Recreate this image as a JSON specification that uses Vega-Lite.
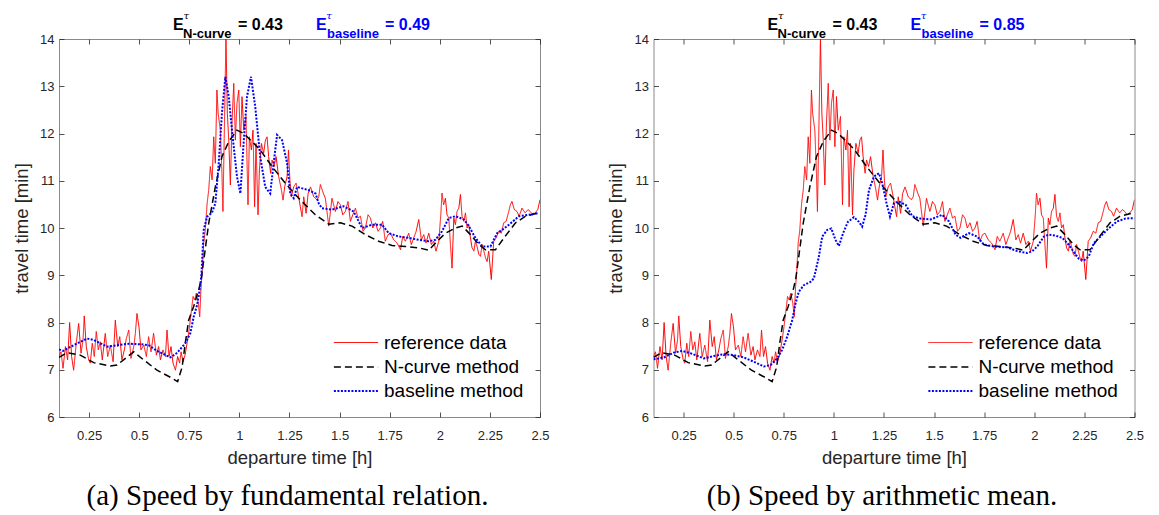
{
  "$schema": "https://vega.github.io/schema/vega-lite/v6.json",
  "padding": {"left": 11, "top": 10, "right": 5, "bottom": 0},
  "background": "white",
  "config": {
    "font": "Liberation Sans",
    "view": {"stroke": "#8a8a8a", "strokeWidth": 1},
    "axis": {"grid": false, "domain": false, "tickColor": "#262626", "tickSize": -5, "tickWidth": 0.8, "labelColor": "#262626", "labelFont": "Liberation Sans", "labelFontSize": 13, "titleFont": "Liberation Sans", "titleFontSize": 18.5, "titleFontWeight": "normal", "titleColor": "#262626"},
    "legend": {"orient": "bottom-right", "offset": 16, "padding": 0, "labelFont": "Liberation Sans", "labelFontSize": 19, "labelColor": "#000", "symbolType": "M-2.7,0H0.7", "symbolSize": 676, "rowPadding": 0, "labelOffset": 1, "title": null}
  },
  "resolve": {"scale": {"color": "independent", "strokeDash": "independent", "strokeWidth": "independent"}, "legend": {"color": "independent", "strokeDash": "independent", "strokeWidth": "independent"}},
  "datasets": {
    "ref": [
      {"t":0.100,"tt":7.28},{"t":0.110,"tt":7.38},{"t":0.120,"tt":7.03},{"t":0.132,"tt":7.49},{"t":0.143,"tt":7.21},{"t":0.153,"tt":8.00},{"t":0.163,"tt":7.28},{"t":0.173,"tt":6.99},{"t":0.186,"tt":7.56},{"t":0.198,"tt":7.98},
      {"t":0.210,"tt":7.35},{"t":0.220,"tt":7.63},{"t":0.226,"tt":8.14},{"t":0.236,"tt":7.49},{"t":0.248,"tt":7.21},{"t":0.256,"tt":7.14},{"t":0.266,"tt":7.56},{"t":0.276,"tt":7.28},{"t":0.286,"tt":7.81},{"t":0.296,"tt":7.42},
      {"t":0.306,"tt":7.59},{"t":0.316,"tt":7.21},{"t":0.331,"tt":7.77},{"t":0.343,"tt":7.28},{"t":0.356,"tt":7.52},{"t":0.370,"tt":7.17},{"t":0.381,"tt":8.05},{"t":0.393,"tt":7.49},{"t":0.403,"tt":7.70},{"t":0.414,"tt":7.21},
      {"t":0.426,"tt":7.42},{"t":0.436,"tt":7.66},{"t":0.448,"tt":7.84},{"t":0.459,"tt":7.24},{"t":0.473,"tt":7.49},{"t":0.481,"tt":7.77},{"t":0.489,"tt":8.19},{"t":0.499,"tt":7.91},{"t":0.509,"tt":7.42},{"t":0.523,"tt":7.52},
      {"t":0.536,"tt":7.28},{"t":0.547,"tt":7.70},{"t":0.559,"tt":7.38},{"t":0.572,"tt":7.77},{"t":0.586,"tt":7.31},{"t":0.597,"tt":7.49},{"t":0.606,"tt":7.21},{"t":0.619,"tt":7.42},{"t":0.631,"tt":7.28},{"t":0.639,"tt":7.84},
      {"t":0.649,"tt":7.28},{"t":0.659,"tt":7.49},{"t":0.669,"tt":7.14},{"t":0.681,"tt":6.99},{"t":0.692,"tt":7.28},{"t":0.702,"tt":7.14},{"t":0.709,"tt":7.38},{"t":0.719,"tt":7.17},{"t":0.729,"tt":7.31},{"t":0.739,"tt":7.56},
      {"t":0.749,"tt":7.84},{"t":0.759,"tt":8.19},{"t":0.769,"tt":8.55},{"t":0.777,"tt":8.48},{"t":0.785,"tt":8.62},{"t":0.795,"tt":8.41},{"t":0.802,"tt":8.12},{"t":0.809,"tt":8.76},{"t":0.814,"tt":9.04},{"t":0.822,"tt":9.68},
      {"t":0.830,"tt":9.96},{"t":0.839,"tt":10.52},{"t":0.847,"tt":10.80},{"t":0.855,"tt":11.30},{"t":0.864,"tt":11.02},{"t":0.872,"tt":11.93},{"t":0.880,"tt":11.37},{"t":0.888,"tt":12.92},{"t":0.894,"tt":12.43},{"t":0.905,"tt":12.07},
      {"t":0.913,"tt":11.16},{"t":0.918,"tt":10.35},{"t":0.925,"tt":12.07},{"t":0.933,"tt":14.05},{"t":0.940,"tt":12.43},{"t":0.947,"tt":11.86},{"t":0.955,"tt":10.91},{"t":0.963,"tt":12.22},{"t":0.972,"tt":13.06},{"t":0.980,"tt":11.86},
      {"t":0.988,"tt":12.64},{"t":0.997,"tt":12.92},{"t":1.005,"tt":11.72},{"t":1.013,"tt":12.78},{"t":1.022,"tt":12.07},{"t":1.033,"tt":12.36},{"t":1.043,"tt":10.49},{"t":1.050,"tt":11.93},{"t":1.060,"tt":11.65},{"t":1.068,"tt":12.07},
      {"t":1.076,"tt":10.45},{"t":1.083,"tt":11.79},{"t":1.093,"tt":10.28},{"t":1.100,"tt":11.23},{"t":1.110,"tt":11.79},{"t":1.121,"tt":11.58},{"t":1.130,"tt":11.86},{"t":1.138,"tt":11.93},{"t":1.146,"tt":11.51},{"t":1.156,"tt":11.16},
      {"t":1.163,"tt":11.44},{"t":1.173,"tt":11.30},{"t":1.183,"tt":11.51},{"t":1.196,"tt":11.09},{"t":1.210,"tt":10.80},{"t":1.218,"tt":10.59},{"t":1.226,"tt":10.87},{"t":1.238,"tt":11.09},{"t":1.245,"tt":11.65},{"t":1.252,"tt":11.02},
      {"t":1.259,"tt":10.66},{"t":1.271,"tt":10.87},{"t":1.283,"tt":10.95},{"t":1.293,"tt":10.73},{"t":1.304,"tt":10.45},{"t":1.313,"tt":10.24},{"t":1.321,"tt":10.66},{"t":1.333,"tt":10.31},{"t":1.343,"tt":10.73},{"t":1.355,"tt":10.87},
      {"t":1.371,"tt":10.66},{"t":1.387,"tt":10.60},{"t":1.396,"tt":10.66},{"t":1.404,"tt":10.92},{"t":1.421,"tt":10.71},{"t":1.429,"tt":10.63},{"t":1.446,"tt":10.04},{"t":1.462,"tt":10.63},{"t":1.479,"tt":10.35},{"t":1.492,"tt":10.56},
      {"t":1.504,"tt":10.49},{"t":1.516,"tt":10.28},{"t":1.529,"tt":10.35},{"t":1.542,"tt":10.56},{"t":1.554,"tt":10.14},{"t":1.566,"tt":10.28},{"t":1.579,"tt":10.42},{"t":1.592,"tt":10.21},{"t":1.604,"tt":10.25},{"t":1.617,"tt":9.93},
      {"t":1.629,"tt":10.00},{"t":1.642,"tt":10.28},{"t":1.654,"tt":10.21},{"t":1.666,"tt":10.00},{"t":1.679,"tt":10.11},{"t":1.692,"tt":9.93},{"t":1.704,"tt":10.00},{"t":1.715,"tt":10.14},{"t":1.728,"tt":9.72},{"t":1.742,"tt":9.86},
      {"t":1.754,"tt":9.89},{"t":1.770,"tt":9.75},{"t":1.787,"tt":9.68},{"t":1.804,"tt":9.54},{"t":1.815,"tt":9.82},{"t":1.828,"tt":9.72},{"t":1.845,"tt":9.89},{"t":1.858,"tt":9.65},{"t":1.870,"tt":9.79},{"t":1.882,"tt":9.93},
      {"t":1.895,"tt":10.18},{"t":1.908,"tt":9.75},{"t":1.920,"tt":9.86},{"t":1.931,"tt":9.68},{"t":1.945,"tt":9.89},{"t":1.958,"tt":9.65},{"t":1.970,"tt":9.72},{"t":1.981,"tt":9.51},{"t":1.995,"tt":9.72},{"t":2.005,"tt":10.28},
      {"t":2.011,"tt":10.74},{"t":2.019,"tt":10.49},{"t":2.028,"tt":10.63},{"t":2.036,"tt":10.28},{"t":2.045,"tt":10.21},{"t":2.053,"tt":9.65},{"t":2.061,"tt":9.15},{"t":2.070,"tt":10.21},{"t":2.078,"tt":10.07},{"t":2.086,"tt":10.35},
      {"t":2.095,"tt":10.42},{"t":2.103,"tt":10.71},{"t":2.111,"tt":10.25},{"t":2.120,"tt":10.14},{"t":2.128,"tt":10.32},{"t":2.136,"tt":10.00},{"t":2.145,"tt":10.07},{"t":2.153,"tt":9.79},{"t":2.161,"tt":9.58},{"t":2.170,"tt":9.51},
      {"t":2.178,"tt":9.72},{"t":2.186,"tt":9.61},{"t":2.195,"tt":9.44},{"t":2.203,"tt":9.40},{"t":2.211,"tt":9.65},{"t":2.220,"tt":9.51},{"t":2.228,"tt":9.37},{"t":2.236,"tt":9.29},{"t":2.244,"tt":9.51},{"t":2.257,"tt":8.91},
      {"t":2.269,"tt":9.72},{"t":2.281,"tt":9.79},{"t":2.294,"tt":9.93},{"t":2.307,"tt":9.89},{"t":2.319,"tt":10.11},{"t":2.331,"tt":10.14},{"t":2.344,"tt":10.35},{"t":2.352,"tt":10.49},{"t":2.360,"tt":10.56},{"t":2.372,"tt":10.39},
      {"t":2.385,"tt":10.35},{"t":2.396,"tt":10.25},{"t":2.410,"tt":10.42},{"t":2.426,"tt":10.32},{"t":2.440,"tt":10.39},{"t":2.451,"tt":10.35},{"t":2.463,"tt":10.28},{"t":2.476,"tt":10.32},{"t":2.489,"tt":10.39},{"t":2.500,"tt":10.60}
    ],
    "ncurve": [
      {"t":0.100,"tt":7.26},{"t":0.140,"tt":7.36},{"t":0.206,"tt":7.31},{"t":0.273,"tt":7.15},{"t":0.356,"tt":7.08},{"t":0.390,"tt":7.10},{"t":0.473,"tt":7.38},{"t":0.522,"tt":7.21},{"t":0.589,"tt":6.99},{"t":0.656,"tt":6.84},
      {"t":0.692,"tt":6.75},{"t":0.714,"tt":7.05},{"t":0.730,"tt":7.56},{"t":0.747,"tt":8.05},{"t":0.772,"tt":8.34},{"t":0.797,"tt":8.69},{"t":0.810,"tt":8.93},{"t":0.847,"tt":10.10},{"t":0.880,"tt":10.87},{"t":0.913,"tt":11.51},
      {"t":0.947,"tt":11.83},{"t":0.988,"tt":12.07},{"t":1.021,"tt":12.00},{"t":1.063,"tt":11.83},{"t":1.104,"tt":11.65},{"t":1.163,"tt":11.30},{"t":1.229,"tt":10.95},{"t":1.296,"tt":10.63},{"t":1.379,"tt":10.28},{"t":1.446,"tt":10.08},
      {"t":1.504,"tt":10.11},{"t":1.562,"tt":10.04},{"t":1.628,"tt":9.86},{"t":1.695,"tt":9.72},{"t":1.762,"tt":9.63},{"t":1.828,"tt":9.61},{"t":1.895,"tt":9.58},{"t":1.945,"tt":9.53},{"t":1.978,"tt":9.68},{"t":2.028,"tt":9.89},
      {"t":2.078,"tt":10.00},{"t":2.112,"tt":10.04},{"t":2.153,"tt":9.86},{"t":2.195,"tt":9.65},{"t":2.228,"tt":9.54},{"t":2.278,"tt":9.54},{"t":2.320,"tt":9.79},{"t":2.378,"tt":10.11},{"t":2.428,"tt":10.25},{"t":2.495,"tt":10.32}
    ],
    "basea": [
      {"t":0.100,"tt":7.43},{"t":0.120,"tt":7.40},{"t":0.173,"tt":7.52},{"t":0.240,"tt":7.66},{"t":0.273,"tt":7.63},{"t":0.340,"tt":7.49},{"t":0.390,"tt":7.52},{"t":0.448,"tt":7.55},{"t":0.506,"tt":7.54},{"t":0.547,"tt":7.52},
      {"t":0.589,"tt":7.40},{"t":0.656,"tt":7.26},{"t":0.690,"tt":7.36},{"t":0.730,"tt":7.56},{"t":0.755,"tt":7.77},{"t":0.772,"tt":8.12},{"t":0.789,"tt":8.37},{"t":0.797,"tt":8.55},{"t":0.810,"tt":8.97},{"t":0.822,"tt":9.96},
      {"t":0.839,"tt":10.24},{"t":0.863,"tt":10.32},{"t":0.880,"tt":10.52},{"t":0.897,"tt":11.37},{"t":0.913,"tt":12.43},{"t":0.930,"tt":13.20},{"t":0.947,"tt":12.78},{"t":0.963,"tt":12.07},{"t":0.988,"tt":11.09},{"t":1.005,"tt":10.73},
      {"t":1.021,"tt":11.79},{"t":1.038,"tt":12.78},{"t":1.058,"tt":13.20},{"t":1.079,"tt":12.57},{"t":1.104,"tt":11.51},{"t":1.129,"tt":10.87},{"t":1.154,"tt":10.73},{"t":1.171,"tt":11.37},{"t":1.188,"tt":11.97},{"t":1.213,"tt":11.86},
      {"t":1.238,"tt":11.37},{"t":1.254,"tt":10.73},{"t":1.271,"tt":10.63},{"t":1.288,"tt":10.87},{"t":1.346,"tt":10.80},{"t":1.380,"tt":10.73},{"t":1.396,"tt":10.52},{"t":1.412,"tt":10.42},{"t":1.462,"tt":10.39},{"t":1.520,"tt":10.46},
      {"t":1.570,"tt":10.35},{"t":1.612,"tt":10.00},{"t":1.662,"tt":10.07},{"t":1.712,"tt":10.07},{"t":1.745,"tt":9.89},{"t":1.795,"tt":9.82},{"t":1.845,"tt":9.79},{"t":1.895,"tt":9.75},{"t":1.945,"tt":9.72},{"t":1.978,"tt":9.75},
      {"t":2.011,"tt":9.93},{"t":2.045,"tt":10.21},{"t":2.078,"tt":10.25},{"t":2.120,"tt":10.18},{"t":2.145,"tt":10.04},{"t":2.178,"tt":9.79},{"t":2.211,"tt":9.61},{"t":2.253,"tt":9.61},{"t":2.286,"tt":9.89},{"t":2.311,"tt":9.96},
      {"t":2.345,"tt":10.07},{"t":2.395,"tt":10.25},{"t":2.445,"tt":10.28},{"t":2.495,"tt":10.32}
    ],
    "baseb": [
      {"t":0.100,"tt":7.22},{"t":0.152,"tt":7.26},{"t":0.200,"tt":7.36},{"t":0.243,"tt":7.40},{"t":0.285,"tt":7.35},{"t":0.351,"tt":7.24},{"t":0.400,"tt":7.29},{"t":0.451,"tt":7.33},{"t":0.500,"tt":7.31},{"t":0.551,"tt":7.26},
      {"t":0.600,"tt":7.17},{"t":0.651,"tt":7.07},{"t":0.684,"tt":7.10},{"t":0.717,"tt":7.24},{"t":0.742,"tt":7.42},{"t":0.767,"tt":7.70},{"t":0.792,"tt":8.05},{"t":0.809,"tt":8.41},{"t":0.825,"tt":8.65},{"t":0.850,"tt":8.79},
      {"t":0.883,"tt":8.86},{"t":0.900,"tt":8.93},{"t":0.925,"tt":9.39},{"t":0.942,"tt":9.82},{"t":0.967,"tt":9.96},{"t":0.987,"tt":9.99},{"t":1.008,"tt":9.75},{"t":1.025,"tt":9.62},{"t":1.046,"tt":9.89},{"t":1.070,"tt":10.13},
      {"t":1.100,"tt":10.23},{"t":1.125,"tt":10.13},{"t":1.141,"tt":10.03},{"t":1.158,"tt":10.28},{"t":1.175,"tt":10.80},{"t":1.200,"tt":11.09},{"t":1.225,"tt":11.16},{"t":1.241,"tt":10.95},{"t":1.263,"tt":10.52},{"t":1.280,"tt":10.24},
      {"t":1.300,"tt":10.53},{"t":1.324,"tt":10.56},{"t":1.358,"tt":10.49},{"t":1.391,"tt":10.25},{"t":1.432,"tt":10.20},{"t":1.482,"tt":10.18},{"t":1.524,"tt":10.25},{"t":1.540,"tt":10.28},{"t":1.574,"tt":10.14},{"t":1.607,"tt":9.86},
      {"t":1.632,"tt":9.79},{"t":1.674,"tt":9.89},{"t":1.715,"tt":9.82},{"t":1.748,"tt":9.65},{"t":1.798,"tt":9.61},{"t":1.865,"tt":9.59},{"t":1.915,"tt":9.51},{"t":1.965,"tt":9.47},{"t":1.990,"tt":9.51},{"t":2.015,"tt":9.61},
      {"t":2.048,"tt":9.82},{"t":2.073,"tt":9.86},{"t":2.106,"tt":9.84},{"t":2.140,"tt":9.79},{"t":2.165,"tt":9.68},{"t":2.189,"tt":9.54},{"t":2.222,"tt":9.35},{"t":2.247,"tt":9.31},{"t":2.272,"tt":9.40},{"t":2.297,"tt":9.68},
      {"t":2.330,"tt":9.82},{"t":2.363,"tt":9.96},{"t":2.413,"tt":10.14},{"t":2.455,"tt":10.20},{"t":2.500,"tt":10.21}
    ],
    "one": [{}]
  },
  "spacing": 55.5,
  "hconcat": [
    {
      "width": 481, "height": 378,
      "title": {"text": "(a) Speed by fundamental relation.", "orient": "bottom", "font": "Liberation Serif", "fontSize": 29, "fontWeight": "normal", "color": "#000", "offset": 14.5, "dx": -12},
      "resolve": {"axis": {"x": "independent", "y": "independent"}},
      "layer": [
        {"data": {"name": "ref"}, "transform": [{"calculate": "'reference data'", "as": "series"}],
         "mark": {"type": "line", "clip": true},
         "encoding": {
           "x": {"field": "t", "type": "quantitative", "scale": {"domain": [0.1, 2.5]}, "axis": {"values": [0.25,0.5,0.75,1,1.25,1.5,1.75,2,2.25,2.5], "labelExpr": "toString(datum.value)", "title": "departure time [h]", "labelPadding": 17.5, "minExtent": 25, "maxExtent": 25, "titlePadding": 6.5, "labelFlush": false}},
           "y": {"field": "tt", "type": "quantitative", "scale": {"domain": [6, 14]}, "axis": {"values": [6,7,8,9,10,11,12,13,14], "title": "travel time [min]", "labelPadding": 10, "minExtent": 22, "maxExtent": 22, "titlePadding": 5.75}},
           "color": {"field": "series", "type": "nominal", "scale": {"domain": ["reference data", "N-curve method", "baseline method"], "range": ["#ff0000", "#000000", "#0000ff"]}},
           "strokeDash": {"field": "series", "type": "nominal", "scale": {"domain": ["reference data", "N-curve method", "baseline method"], "range": [[1,0],[7,4],[2,1.5]]}},
           "strokeWidth": {"field": "series", "type": "nominal", "scale": {"domain": ["reference data", "N-curve method", "baseline method"], "range": [1, 2, 2]}}
         }},
        {"data": {"name": "ncurve"}, "transform": [{"calculate": "'N-curve method'", "as": "series"}],
         "mark": {"type": "line", "clip": true},
         "encoding": {
           "x": {"field": "t", "type": "quantitative", "scale": {"domain": [0.1, 2.5]}, "axis": {"orient": "top", "values": [0.25,0.5,0.75,1,1.25,1.5,1.75,2,2.25,2.5], "labels": false, "title": null, "minExtent": 0, "maxExtent": 0}},
           "y": {"field": "tt", "type": "quantitative", "scale": {"domain": [6, 14]}, "axis": {"orient": "right", "values": [6,7,8,9,10,11,12,13,14], "labels": false, "title": null, "minExtent": 0, "maxExtent": 0}},
           "color": {"field": "series", "type": "nominal"},
           "strokeDash": {"field": "series", "type": "nominal"},
           "strokeWidth": {"field": "series", "type": "nominal"}
         }},
        {"data": {"name": "basea"}, "transform": [{"calculate": "'baseline method'", "as": "series"}],
         "mark": {"type": "line", "clip": true},
         "encoding": {
           "x": {"field": "t", "type": "quantitative", "scale": {"domain": [0.1, 2.5]}, "axis": null},
           "y": {"field": "tt", "type": "quantitative", "scale": {"domain": [6, 14]}, "axis": null},
           "color": {"field": "series", "type": "nominal"},
           "strokeDash": {"field": "series", "type": "nominal"},
           "strokeWidth": {"field": "series", "type": "nominal"}
         }},
        {"data": {"name": "one"}, "mark": {"type": "text", "text": "E", "fontWeight": "bold", "fontSize": 16, "align": "left", "dy": -13.7, "color": "#000"},
         "encoding": {"x": {"datum": 0.669, "type": "quantitative", "scale": {"domain": [0.1, 2.5]}, "axis": null}, "y": {"datum": 14, "type": "quantitative", "scale": {"domain": [6, 14]}, "axis": null}}},
        {"data": {"name": "one"}, "mark": {"type": "text", "text": "τ", "font": "DejaVu Serif", "fontStyle": "italic", "fontSize": 10, "align": "left", "dy": -23, "color": "#000"},
         "encoding": {"x": {"datum": 0.721, "type": "quantitative", "scale": {"domain": [0.1, 2.5]}, "axis": null}, "y": {"datum": 14, "type": "quantitative", "scale": {"domain": [6, 14]}, "axis": null}}},
        {"data": {"name": "one"}, "mark": {"type": "text", "text": "N-curve", "fontWeight": "bold", "fontSize": 13, "align": "left", "dy": -5.5, "color": "#000"},
         "encoding": {"x": {"datum": 0.719, "type": "quantitative", "scale": {"domain": [0.1, 2.5]}, "axis": null}, "y": {"datum": 14, "type": "quantitative", "scale": {"domain": [6, 14]}, "axis": null}}},
        {"data": {"name": "one"}, "mark": {"type": "text", "text": "= 0.43", "fontWeight": "bold", "fontSize": 16, "align": "left", "dy": -13.7, "color": "#000"},
         "encoding": {"x": {"datum": 0.993, "type": "quantitative", "scale": {"domain": [0.1, 2.5]}, "axis": null}, "y": {"datum": 14, "type": "quantitative", "scale": {"domain": [6, 14]}, "axis": null}}},
        {"data": {"name": "one"}, "mark": {"type": "text", "text": "E", "fontWeight": "bold", "fontSize": 16, "align": "left", "dy": -13.7, "color": "#0000ff"},
         "encoding": {"x": {"datum": 1.382, "type": "quantitative", "scale": {"domain": [0.1, 2.5]}, "axis": null}, "y": {"datum": 14, "type": "quantitative", "scale": {"domain": [6, 14]}, "axis": null}}},
        {"data": {"name": "one"}, "mark": {"type": "text", "text": "τ", "font": "DejaVu Serif", "fontStyle": "italic", "fontSize": 10, "align": "left", "dy": -23, "color": "#0000ff"},
         "encoding": {"x": {"datum": 1.434, "type": "quantitative", "scale": {"domain": [0.1, 2.5]}, "axis": null}, "y": {"datum": 14, "type": "quantitative", "scale": {"domain": [6, 14]}, "axis": null}}},
        {"data": {"name": "one"}, "mark": {"type": "text", "text": "baseline", "fontWeight": "bold", "fontSize": 13, "align": "left", "dy": -5.5, "color": "#0000ff"},
         "encoding": {"x": {"datum": 1.437, "type": "quantitative", "scale": {"domain": [0.1, 2.5]}, "axis": null}, "y": {"datum": 14, "type": "quantitative", "scale": {"domain": [6, 14]}, "axis": null}}},
        {"data": {"name": "one"}, "mark": {"type": "text", "text": "= 0.49", "fontWeight": "bold", "fontSize": 16, "align": "left", "dy": -13.7, "color": "#0000ff"},
         "encoding": {"x": {"datum": 1.727, "type": "quantitative", "scale": {"domain": [0.1, 2.5]}, "axis": null}, "y": {"datum": 14, "type": "quantitative", "scale": {"domain": [6, 14]}, "axis": null}}}
      ]
    },
    {
      "width": 481, "height": 378,
      "title": {"text": "(b) Speed by arithmetic mean.", "orient": "bottom", "font": "Liberation Serif", "fontSize": 29, "fontWeight": "normal", "color": "#000", "offset": 14.5, "dx": -12},
      "resolve": {"axis": {"x": "independent", "y": "independent"}},
      "layer": [
        {"data": {"name": "ref"}, "transform": [{"calculate": "'reference data'", "as": "series"}],
         "mark": {"type": "line", "clip": true},
         "encoding": {
           "x": {"field": "t", "type": "quantitative", "scale": {"domain": [0.1, 2.5]}, "axis": {"values": [0.25,0.5,0.75,1,1.25,1.5,1.75,2,2.25,2.5], "labelExpr": "toString(datum.value)", "title": "departure time [h]", "labelPadding": 17.5, "minExtent": 25, "maxExtent": 25, "titlePadding": 6.5, "labelFlush": false}},
           "y": {"field": "tt", "type": "quantitative", "scale": {"domain": [6, 14]}, "axis": {"values": [6,7,8,9,10,11,12,13,14], "title": "travel time [min]", "labelPadding": 10, "minExtent": 22, "maxExtent": 22, "titlePadding": 5.75}},
           "color": {"field": "series", "type": "nominal", "scale": {"domain": ["reference data", "N-curve method", "baseline method"], "range": ["#ff0000", "#000000", "#0000ff"]}},
           "strokeDash": {"field": "series", "type": "nominal", "scale": {"domain": ["reference data", "N-curve method", "baseline method"], "range": [[1,0],[7,4],[2,1.5]]}},
           "strokeWidth": {"field": "series", "type": "nominal", "scale": {"domain": ["reference data", "N-curve method", "baseline method"], "range": [1, 2, 2]}}
         }},
        {"data": {"name": "ncurve"}, "transform": [{"calculate": "'N-curve method'", "as": "series"}],
         "mark": {"type": "line", "clip": true},
         "encoding": {
           "x": {"field": "t", "type": "quantitative", "scale": {"domain": [0.1, 2.5]}, "axis": {"orient": "top", "values": [0.25,0.5,0.75,1,1.25,1.5,1.75,2,2.25,2.5], "labels": false, "title": null, "minExtent": 0, "maxExtent": 0}},
           "y": {"field": "tt", "type": "quantitative", "scale": {"domain": [6, 14]}, "axis": {"orient": "right", "values": [6,7,8,9,10,11,12,13,14], "labels": false, "title": null, "minExtent": 0, "maxExtent": 0}},
           "color": {"field": "series", "type": "nominal"},
           "strokeDash": {"field": "series", "type": "nominal"},
           "strokeWidth": {"field": "series", "type": "nominal"}
         }},
        {"data": {"name": "baseb"}, "transform": [{"calculate": "'baseline method'", "as": "series"}],
         "mark": {"type": "line", "clip": true},
         "encoding": {
           "x": {"field": "t", "type": "quantitative", "scale": {"domain": [0.1, 2.5]}, "axis": null},
           "y": {"field": "tt", "type": "quantitative", "scale": {"domain": [6, 14]}, "axis": null},
           "color": {"field": "series", "type": "nominal"},
           "strokeDash": {"field": "series", "type": "nominal"},
           "strokeWidth": {"field": "series", "type": "nominal"}
         }},
        {"data": {"name": "one"}, "mark": {"type": "text", "text": "E", "fontWeight": "bold", "fontSize": 16, "align": "left", "dy": -13.7, "color": "#000"},
         "encoding": {"x": {"datum": 0.669, "type": "quantitative", "scale": {"domain": [0.1, 2.5]}, "axis": null}, "y": {"datum": 14, "type": "quantitative", "scale": {"domain": [6, 14]}, "axis": null}}},
        {"data": {"name": "one"}, "mark": {"type": "text", "text": "τ", "font": "DejaVu Serif", "fontStyle": "italic", "fontSize": 10, "align": "left", "dy": -23, "color": "#000"},
         "encoding": {"x": {"datum": 0.721, "type": "quantitative", "scale": {"domain": [0.1, 2.5]}, "axis": null}, "y": {"datum": 14, "type": "quantitative", "scale": {"domain": [6, 14]}, "axis": null}}},
        {"data": {"name": "one"}, "mark": {"type": "text", "text": "N-curve", "fontWeight": "bold", "fontSize": 13, "align": "left", "dy": -5.5, "color": "#000"},
         "encoding": {"x": {"datum": 0.719, "type": "quantitative", "scale": {"domain": [0.1, 2.5]}, "axis": null}, "y": {"datum": 14, "type": "quantitative", "scale": {"domain": [6, 14]}, "axis": null}}},
        {"data": {"name": "one"}, "mark": {"type": "text", "text": "= 0.43", "fontWeight": "bold", "fontSize": 16, "align": "left", "dy": -13.7, "color": "#000"},
         "encoding": {"x": {"datum": 0.993, "type": "quantitative", "scale": {"domain": [0.1, 2.5]}, "axis": null}, "y": {"datum": 14, "type": "quantitative", "scale": {"domain": [6, 14]}, "axis": null}}},
        {"data": {"name": "one"}, "mark": {"type": "text", "text": "E", "fontWeight": "bold", "fontSize": 16, "align": "left", "dy": -13.7, "color": "#0000ff"},
         "encoding": {"x": {"datum": 1.382, "type": "quantitative", "scale": {"domain": [0.1, 2.5]}, "axis": null}, "y": {"datum": 14, "type": "quantitative", "scale": {"domain": [6, 14]}, "axis": null}}},
        {"data": {"name": "one"}, "mark": {"type": "text", "text": "τ", "font": "DejaVu Serif", "fontStyle": "italic", "fontSize": 10, "align": "left", "dy": -23, "color": "#0000ff"},
         "encoding": {"x": {"datum": 1.434, "type": "quantitative", "scale": {"domain": [0.1, 2.5]}, "axis": null}, "y": {"datum": 14, "type": "quantitative", "scale": {"domain": [6, 14]}, "axis": null}}},
        {"data": {"name": "one"}, "mark": {"type": "text", "text": "baseline", "fontWeight": "bold", "fontSize": 13, "align": "left", "dy": -5.5, "color": "#0000ff"},
         "encoding": {"x": {"datum": 1.437, "type": "quantitative", "scale": {"domain": [0.1, 2.5]}, "axis": null}, "y": {"datum": 14, "type": "quantitative", "scale": {"domain": [6, 14]}, "axis": null}}},
        {"data": {"name": "one"}, "mark": {"type": "text", "text": "= 0.85", "fontWeight": "bold", "fontSize": 16, "align": "left", "dy": -13.7, "color": "#0000ff"},
         "encoding": {"x": {"datum": 1.727, "type": "quantitative", "scale": {"domain": [0.1, 2.5]}, "axis": null}, "y": {"datum": 14, "type": "quantitative", "scale": {"domain": [6, 14]}, "axis": null}}}
      ]
    }
  ]
}
